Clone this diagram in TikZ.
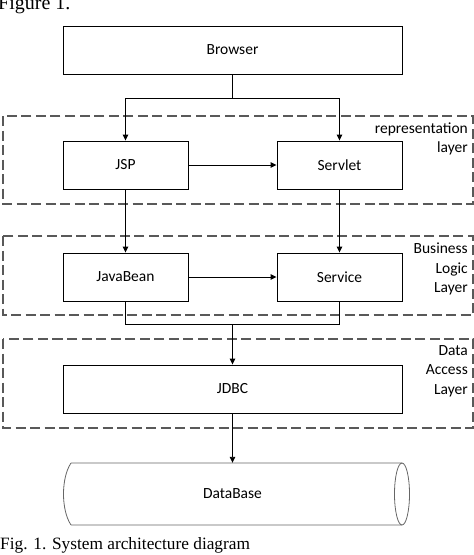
\documentclass[tikz,border=0pt]{standalone}
\usepackage{fontspec}
\setmainfont{Carlito}
\newfontfamily\capfont{Liberation Serif}
\usetikzlibrary{arrows.meta}
\begin{document}
\begin{tikzpicture}[x=1pt,y=-1pt,
  box/.style={draw=black,line width=0.9pt,rectangle,minimum height=48pt,inner sep=0pt,font=\fontsize{15.5}{18}\selectfont},
  layerbox/.style={draw=black!65,line width=1.6pt,dash pattern=on 10pt off 4.5pt},
  layerlabel/.style={align=right,anchor=east,inner sep=0pt,font=\fontsize{15.5}{19.3}\selectfont},
  conn/.style={line width=0.9pt},
  arr/.style={conn,-{Triangle[length=6pt,width=5.5pt]}}]
\useasboundingbox (0,0) rectangle (474,555);
% caption top
\node[anchor=base west,inner sep=0pt,font=\capfont\fontsize{20}{20}\selectfont] (figtop) at (-2,9) {Figure 1.};
% layer boxes
\draw[layerbox] (3,116) rectangle (473,204);
\draw[layerbox] (3,236) rectangle (473,315);
\draw[layerbox] (3,339) rectangle (473,428);
\node[layerlabel] (l1) at (468,139) {representation\\layer};
\node[layerlabel] (l2) at (468,269) {Business\\Logic\\Layer};
\node[layerlabel] (l3) at (468,371) {Data\\Access\\Layer};
% nodes
\node[box,minimum width=339pt] (browser) at (232.5,50) {Browser};
\node[box,minimum width=125pt] (jsp) at (125.5,165) {JSP};
\node[box,minimum width=125pt] (servlet) at (339.5,165) {Servlet};
\node[box,minimum width=125pt] (javabean) at (125.5,277) {JavaBean};
\node[box,minimum width=125pt] (service) at (339.5,277) {Service};
\node[box,minimum width=339pt] (jdbc) at (232.5,389) {JDBC};
\node[rectangle,minimum width=339pt,minimum height=62pt,inner sep=0pt,font=\fontsize{15.5}{18}\selectfont] (db) at (232.5,494) {DataBase};
% cylinder
\draw[black!60,line width=0.8pt] (71,463) -- (402,463)
  (71,525) -- (402,525)
  (71,463) .. controls (61,478) and (61,510) .. (71,525);
\draw[black!60,line width=0.8pt] (402,494) ellipse [x radius=7.5pt,y radius=31pt];
% connectors
\coordinate (split) at (232.5,98);
\draw[conn] (browser) -- (split);
\draw[arr] (split) -| (jsp);
\draw[arr] (split) -| (servlet);
\draw[arr] (jsp) -- (servlet);
\draw[arr] (jsp) -- (javabean);
\draw[arr] (servlet) -- (service);
\draw[arr] (javabean) -- (service);
\coordinate (join) at (232.5,324);
\draw[conn] (javabean) |- (join);
\draw[conn] (service) |- (join);
\draw[arr] (join) -- (jdbc);
\draw[arr] (jdbc) -- (db);
% caption
\node[anchor=base west,inner sep=0pt,font=\capfont\fontsize{17.3}{18}\selectfont] (caption) at (0,549) {Fig. 1. System architecture diagram};
\end{tikzpicture}
\end{document}
